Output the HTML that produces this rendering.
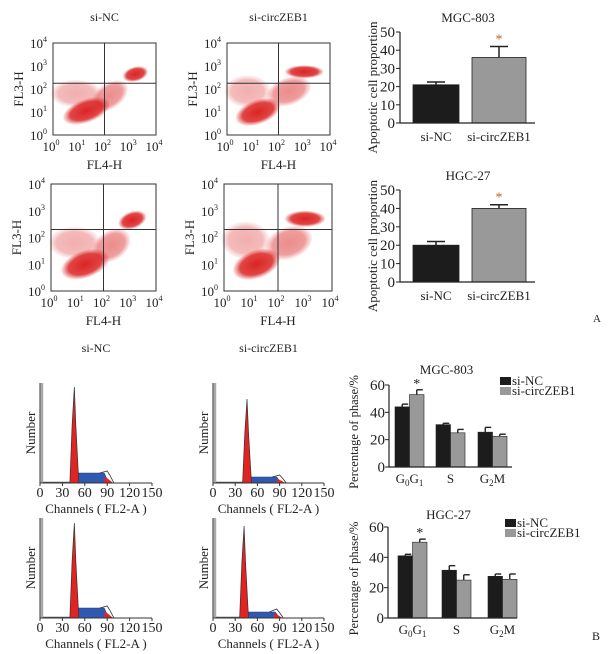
<!DOCTYPE html>
<html><head><meta charset="utf-8"><style>
html,body{margin:0;padding:0;background:#fff}
svg{display:block;font-family:"Liberation Serif",serif}
</style></head><body>
<svg id="fig" width="613" height="654" viewBox="0 0 613 654" xmlns="http://www.w3.org/2000/svg">
<defs>
<radialGradient id="rg"><stop offset="0" stop-color="#d81818" stop-opacity="1"/><stop offset="0.7" stop-color="#dc2626" stop-opacity="0.9"/><stop offset="1" stop-color="#e04040" stop-opacity="0.1"/></radialGradient>
</defs>
</svg>
<script>
// ===== Data =====
var apopCategories = ["si-NC","si-circZEB1"];
var apopMGC = [21, 36];
var apopMGCErr = [22.5, 42];
var apopHGC = [20, 40];
var apopHGCErr = [22, 42];
var apopTicks = [0,10,20,30,40,50];

var phaseCategories = ["G0G1","S","G2M"];
var phaseMGC_NC = [44, 31, 25.5];
var phaseMGC_NCErr = [46, 32, 29];
var phaseMGC_ZEB = [53, 25, 22.5];
var phaseMGC_ZEBErr = [56.5, 27.5, 24];
var phaseHGC_NC = [41, 31.5, 27.5];
var phaseHGC_NCErr = [42, 34.5, 29];
var phaseHGC_ZEB = [50, 25, 25.5];
var phaseHGC_ZEBErr = [52, 28.5, 29];
var phaseTicks = [0,20,40,60];

// scatter clusters: [logX, logY, rxDecades, ryDecades, angleDeg, opacity]
var clustersNC1 = [[0.9,1.8,1.0,0.6,0,0.35],[2.2,1.7,0.8,0.55,-35,0.5],[1.3,1.05,0.95,0.5,-20,0.95],[3.2,2.65,0.5,0.32,-15,0.95]];
var clustersZEB1 = [[0.8,1.9,0.9,0.7,0,0.35],[2.4,1.9,0.9,0.6,-20,0.5],[1.2,1.0,0.9,0.52,-20,0.95],[3.0,2.75,0.75,0.28,0,0.95]];
var clustersNC2 = [[0.9,1.8,1.0,0.6,0,0.35],[2.3,1.7,0.8,0.55,-35,0.5],[1.3,1.0,0.95,0.5,-20,0.95],[3.1,2.65,0.55,0.32,-20,0.95]];
var clustersZEB2 = [[0.8,1.9,0.9,0.7,0,0.35],[2.4,1.8,0.9,0.6,-20,0.5],[1.2,1.0,0.9,0.52,-20,0.95],[3.0,2.7,0.75,0.3,0,0.95]];
var gateNC1 = [2, 2.25], gateZEB1 = [2, 2.25], gateNC2 = [2, 2.3], gateZEB2 = [2, 2.3];

// histograms: G1 peak [channel, %height], S plateau [start,end,%], G2 [channel,%]
var histChannels = [0,30,60,90,120,150];
var histNC1 = {g1:[46,96], s:[50,86,10], g2:[90,12]};
var histZEB1 = {g1:[46,84], s:[48,86,6], g2:[90,8]};
var histNC2 = {g1:[46,95], s:[50,86,10], g2:[90,12]};
var histZEB2 = {g1:[42,92], s:[46,84,6], g2:[86,9]};

// ===== Helpers =====
var NS="http://www.w3.org/2000/svg", svg=document.getElementById('fig');
function mk(tag, at, parent){var e=document.createElementNS(NS,tag);for(var k in at)e.setAttribute(k,at[k]);(parent||svg).appendChild(e);return e;}
function txt(x,y,s,size,anchor,name,parent,rot){var t=mk('text',{x:x,y:y,'font-size':size,'text-anchor':anchor||'middle',fill:'#222'},parent);
 if(rot)t.setAttribute('transform','rotate(-90 '+x+' '+y+')');
 
 
 t.textContent=s;return t;}
function grp(name){var g=mk('g',{});
 
 
 return g;}

// ===== Scatter (flow dot plots) =====
function scatter(name,x0,y0,x1,y1,clusters,gate,title,titleY){
 var g=grp(name);
 function sx(v){return x0+(x1-x0)*v/4;}
 function sy(v){return y1-(y1-y0)*v/4;}
 clusters.forEach(function(c){
   var e=mk('ellipse',{cx:sx(c[0]),cy:sy(c[1]),rx:(x1-x0)*c[2]/4,ry:(y1-y0)*c[3]/4,fill:'url(#rg)',opacity:c[5],transform:'rotate('+c[4]+' '+sx(c[0])+' '+sy(c[1])+')'},g);
   
   
 });
 var r=mk('rect',{x:x0,y:y0,width:x1-x0,height:y1-y0,fill:'none',stroke:'#333','stroke-width':1},g);
 
 
 var v=mk('line',{x1:sx(gate[0]),x2:sx(gate[0]),y1:y0,y2:y1,stroke:'#333','stroke-width':1},g);
 
 
 var h=mk('line',{x1:x0,x2:x1,y1:sy(gate[1]),y2:sy(gate[1]),stroke:'#333','stroke-width':1},g);
 
 
 for(var i=0;i<=4;i++){
   var t=txt(sx(i)-2,y1+16,'10',13,'middle','x-tick-label',g);
   var s=mk('tspan',{dy:-6,'font-size':8},t);s.textContent=i;
   var t2=txt(x0-6,sy(i)+5,'10',13,'end','y-tick-label',g);
   var s2=mk('tspan',{dy:-6,'font-size':8},t2);s2.textContent=i;
 }
 txt((x0+x1)/2,y1+34,'FL4-H',13,'middle','x-axis-title',g);
 txt(x0-30,(y0+y1)/2,'FL3-H',13,'middle','y-axis-title',g,true);
 if(title)txt((x0+x1)/2,titleY,title,12,'middle','panel-title',g);
}
scatter('scatter-nc-mgc',53,43,156,135,clustersNC1,gateNC1,'si-NC',21);
scatter('scatter-zeb-mgc',227,43,330,135,clustersZEB1,gateZEB1,'si-circZEB1',21);
scatter('scatter-nc-hgc',51,184,156,291,clustersNC2,gateNC2,null);
scatter('scatter-zeb-hgc',224,184,332,291,clustersZEB2,gateZEB2,null);

// ===== Apoptosis bar charts =====
function apop(name,title,vals,errs,y0px,y50px){
 var g=grp(name), ax=400, xe=535;
 function y(v){return y0px-(y0px-y50px)*v/50;}
 var bx=[[413,459],[472,526]], cols=['#1c1c1c','#999'];
 vals.forEach(function(v,i){
   var e=mk('line',{x1:(bx[i][0]+bx[i][1])/2,x2:(bx[i][0]+bx[i][1])/2,y1:y(v),y2:y(errs[i]),stroke:'#222','stroke-width':1.5},g);
   
   
   var c=mk('line',{x1:(bx[i][0]+bx[i][1])/2-9,x2:(bx[i][0]+bx[i][1])/2+9,y1:y(errs[i]),y2:y(errs[i]),stroke:'#222','stroke-width':1.5},g);
   
   
   var r=mk('rect',{x:bx[i][0],y:y(v),width:bx[i][1]-bx[i][0],height:y(0)-y(v),fill:cols[i],stroke:'#222','stroke-width':0.8},g);
   
   
   txt((bx[i][0]+bx[i][1])/2,y0px+18,apopCategories[i],13,'middle','category-label',g);
 });
 txt((bx[1][0]+bx[1][1])/2,y(errs[1])-3,'*',14,'middle','significance-star',g).setAttribute('fill','#b5651d');
 var a=mk('path',{d:'M'+ax+' '+y(50)+' V'+y0px+' H'+xe,fill:'none',stroke:'#222','stroke-width':1.2},g);
 
 
 apopTicks.forEach(function(t){
   var l=mk('line',{x1:ax-4,x2:ax,y1:y(t),y2:y(t),stroke:'#222'},g);
   
   
   txt(ax-5,y(t)+5,String(t),15,'end','y-tick-label',g);
 });
 txt(468,y(50)-10,title,13,'middle','chart-title',g);
 txt(377,(y(50)+y0px)/2+10,'Apoptotic cell proportion',13,'middle','y-axis-title',g,true);
}
apop('apoptosis-mgc','MGC-803',apopMGC,apopMGCErr,123,32);
apop('apoptosis-hgc','HGC-27',apopHGC,apopHGCErr,282,190);
txt(597,322,'A',11,'middle','panel-label-a');

// ===== Histograms =====
function hist(name,x0,x150,yAxis,yTop,h,title,titleY){
 var g=grp(name);
 function x(c){return x0+(x150-x0)*c/150;}
 function y(p){return yAxis-(yAxis-yTop)*p/100;}
 var gb=mk('rect',{x:x(1),y:yTop,width:2.5,height:yAxis-yTop,fill:'#aaa'},g);
 
 
 var bl=mk('line',{x1:x(4),x2:x(h.g1[0]-6),y1:y(0.8),y2:y(0.8),stroke:'#555','stroke-width':0.8},g);
 
 
 var sp=mk('polygon',{points:[x(h.s[0]-2),y(0),x(h.s[0]+2),y(h.s[2]),x(h.s[1]),y(h.s[2]),x(h.s[1]+6),y(0)].join(' '),fill:'#2f59b0',stroke:'#1d3a80','stroke-width':0.6},g);
 
 
 var g1=mk('polygon',{points:[x(h.g1[0]-6),y(0),x(h.g1[0]-3),y(h.g1[1]*0.6),x(h.g1[0]),y(h.g1[1]),x(h.g1[0]+2),y(h.g1[1]*0.6),x(h.g1[0]+6),y(0)].join(' '),fill:'#e32222',stroke:'#333','stroke-width':0.7},g);
 
 
 var g2=mk('polygon',{points:[x(h.g2[0]-4),y(0),x(h.g2[0]-3),y(h.g2[1]*0.55),x(h.g2[0]+8),y(0)].join(' '),fill:'#e32222'},g);
 
 
 var ol=mk('polyline',{points:[x(h.g2[0]-10),y(h.s[2]),x(h.g2[0]),y(h.g2[1]),x(h.g2[0]+4),y(h.g2[1]*0.6),x(h.g2[0]+9),y(0)].join(' '),fill:'none',stroke:'#333','stroke-width':0.8},g);
 
 
 var a=mk('path',{d:'M'+x(0)+' '+(yTop)+' V'+yAxis+' H'+x(150),fill:'none',stroke:'#333','stroke-width':1},g);
 
 
 histChannels.forEach(function(c){
   var l=mk('line',{x1:x(c),x2:x(c),y1:yAxis,y2:yAxis+3,stroke:'#333'},g);
   
   
   txt(x(c),yAxis+14,String(c),14,'middle','x-tick-label',g);
 });
 txt((x0+x150)/2,yAxis+30,'Channels ( FL2-A )',13,'middle','x-axis-title',g);
 txt(x0-5,(yTop+yAxis)/2,'Number',13,'middle','y-axis-title',g,true);
 if(title)txt((x0+x150)/2,titleY,title,12,'middle','panel-title',g);
}
hist('hist-nc-mgc',40,152,483,383,histNC1,'si-NC',352);
hist('hist-zeb-mgc',213,324,483,383,histZEB1,'si-circZEB1',352);
hist('hist-nc-hgc',40,152,618,518,histNC2,null);
hist('hist-zeb-hgc',213,324,618,518,histZEB2,null);

// ===== Phase bar charts =====
function phase(name,title,nc,ncE,zb,zbE,ax,xe,y0px,y60px,groupX,titleY,legY){
 var g=grp(name);
 function y(v){return y0px-(y0px-y60px)*v/60;}
 var bw=14.5;
 phaseCategories.forEach(function(c,i){
   [[nc,ncE,'#1c1c1c'],[zb,zbE,'#999']].forEach(function(s,j){
     var bx=groupX[i]+j*bw, cx=bx+bw/2, v=s[0][i], e=s[1][i];
     var el=mk('line',{x1:cx,x2:cx,y1:y(v),y2:y(e),stroke:'#222','stroke-width':1.4},g);
     
     
     var cp=mk('line',{x1:cx,x2:cx+6,y1:y(e),y2:y(e),stroke:'#222','stroke-width':1.4},g);
     
     
     var r=mk('rect',{x:bx,y:y(v),width:bw,height:y(0)-y(v),fill:s[2],stroke:'#222','stroke-width':0.6},g);
     
     
   });
   var lab=txt(groupX[i]+bw,y0px+16,'',13,'middle','category-label',g);
   if(c==='G0G1'){lab.innerHTML='G<tspan font-size="9" dy="3">0</tspan><tspan dy="-3">G</tspan><tspan font-size="9" dy="3">1</tspan>';}
   else if(c==='G2M'){lab.innerHTML='G<tspan font-size="9" dy="3">2</tspan><tspan dy="-3">M</tspan>';}
   else lab.textContent=c;
 });
 txt(groupX[0]+bw*1.5,y(zbE[0])-2,'*',14,'middle','significance-star',g);
 var a=mk('path',{d:'M'+ax+' '+y(60)+' V'+y0px+' H'+xe,fill:'none',stroke:'#222','stroke-width':1.2},g);
 
 
 phaseTicks.forEach(function(t){
   var l=mk('line',{x1:ax-4,x2:ax,y1:y(t),y2:y(t),stroke:'#222'},g);
   
   
   txt(ax-4,y(t)+5,String(t),15,'end','y-tick-label',g);
 });
 txt((ax+xe)/2-4,titleY,title,13,'middle','chart-title',g);
 txt(358,(y(60)+y0px)/2+6,'Percentage of phase/%',12.5,'middle','y-axis-title',g,true);
 var lg=grp('legend');
 [['si-NC','#1c1c1c'],['si-circZEB1','#999']].forEach(function(l,i){
   var r=mk('rect',{x:xe-12,y:legY+i*10-6,width:11,height:8,fill:l[1]},lg);
   
   
   txt(xe,legY+i*10+2,l[0],13,'start','legend-entry',lg);
 });
}
phase('phase-mgc','MGC-803',phaseMGC_NC,phaseMGC_NCErr,phaseMGC_ZEB,phaseMGC_ZEBErr,389,512,467,385,[395,436,478],374,383);
phase('phase-hgc','HGC-27',phaseHGC_NC,phaseHGC_NCErr,phaseHGC_ZEB,phaseHGC_ZEBErr,388,517,618,527,[398,442,488],519,525);
txt(596,640,'B',12,'middle','panel-label-b');
</script>
</body></html>
